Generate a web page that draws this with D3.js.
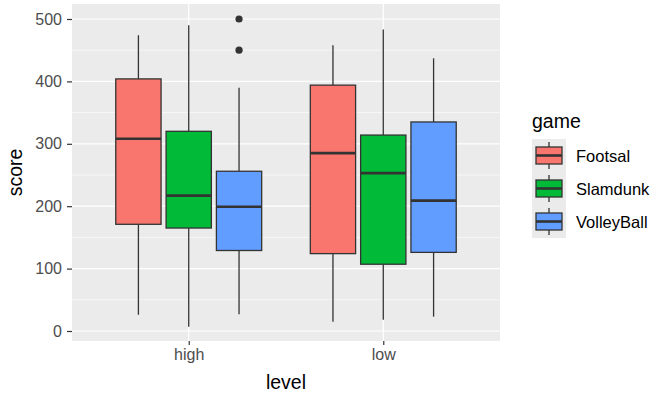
<!DOCTYPE html>
<html><head><meta charset="utf-8">
<script src="https://cdn.jsdelivr.net/npm/d3@7"></script>
<style>body{margin:0;background:#fff}text{font-family:"Liberation Sans",Arial,sans-serif}</style>
</head><body><svg id="c" width="660" height="394"></svg>
<script>
const levels = ["high", "low"];
const games = ["Footsal", "Slamdunk", "VolleyBall"];
const colors = ["#F8766D", "#00BA38", "#619CFF"];
// [lower whisker, Q1, median, Q3, upper whisker] per level (high, low)
const footsal = [[26, 171, 308, 404, 474], [15, 124, 285, 394, 458]];
const slamdunk = [[7, 165, 217, 320, 490], [18, 107, 253, 314, 483]];
const volleyball = [[27, 129, 199, 256, 390], [23, 126, 209, 335, 437]];
// outliers per level, per game
const outHigh = [[], [], [500, 450]];
const outLow = [[], [], []];
const yTicks = [0, 100, 200, 300, 400, 500];
const yMinor = [50, 150, 250, 350, 450];

const series = [footsal, slamdunk, volleyball];
const outs = [outHigh, outLow];

const svg = d3.select("#c");
const P = {l: 72, r: 500, t: 4, b: 341};
// ggplot discrete expansion: centres at 0.6/2.2 and 1.6/2.2 of panel width
const xc = d3.scalePoint().domain(levels).range([P.l + (P.r-P.l)*0.6/2.2, P.l + (P.r-P.l)*1.6/2.2]);
const step = xc.step();
const dodge = d3.scaleBand().domain(games).range([-step*0.375, step*0.375]).paddingInner(0.1);
const y = d3.scaleLinear().domain([0, 500]).range([331, 19]);
const FONT = "Liberation Sans, Arial, sans-serif";

svg.append("rect").attr("x", P.l).attr("y", P.t).attr("width", P.r-P.l).attr("height", P.b-P.t).attr("fill", "#EBEBEB");
const g = svg.append("g");
yMinor.forEach(v => g.append("line").attr("x1", P.l).attr("x2", P.r).attr("y1", y(v)).attr("y2", y(v)).attr("stroke", "#fff").attr("stroke-width", 0.6));
yTicks.forEach(v => g.append("line").attr("x1", P.l).attr("x2", P.r).attr("y1", y(v)).attr("y2", y(v)).attr("stroke", "#fff").attr("stroke-width", 1.2));
levels.forEach(l => g.append("line").attr("x1", xc(l)).attr("x2", xc(l)).attr("y1", P.t).attr("y2", P.b).attr("stroke", "#fff").attr("stroke-width", 1.2));

// y axis
const ya = svg.append("g").attr("transform", `translate(${P.l},0)`)
  .call(d3.axisLeft(y).tickValues(yTicks).tickSize(5).tickPadding(5));
ya.select(".domain").remove();
ya.selectAll("line").attr("stroke", "#333").attr("stroke-width", 1.2);
ya.selectAll("text").attr("fill", "#4D4D4D").style("font-size", "16px").style("font-family", FONT);
// x axis
const xa = svg.append("g").attr("transform", `translate(0,${P.b})`)
  .call(d3.axisBottom(xc).tickSize(4).tickPadding(4));
xa.select(".domain").remove();
xa.selectAll("line").attr("stroke", "#333").attr("stroke-width", 1.2);
xa.selectAll("text").attr("fill", "#4D4D4D").style("font-size", "16px").style("font-family", FONT);

svg.append("text").attr("x", (P.l+P.r)/2).attr("y", 389).attr("text-anchor", "middle").style("font-size", "19.5px").text("level");
svg.append("text").attr("transform", `translate(22,${(P.t+P.b)/2}) rotate(-90)`).attr("text-anchor", "middle").style("font-size", "19.5px").text("score");

// boxes
levels.forEach((l, li) => {
  games.forEach((gm, gi) => {
    const s = series[gi][li];
    const x0 = xc(l) + dodge(gm), w = dodge.bandwidth(), cx = x0 + w/2;
    g.append("line").attr("x1", cx).attr("x2", cx).attr("y1", y(s[4])).attr("y2", y(s[3])).attr("stroke", "#333").attr("stroke-width", 1.3);
    g.append("line").attr("x1", cx).attr("x2", cx).attr("y1", y(s[1])).attr("y2", y(s[0])).attr("stroke", "#333").attr("stroke-width", 1.3);
    g.append("rect").attr("x", x0).attr("y", y(s[3])).attr("width", w).attr("height", y(s[1]) - y(s[3]))
      .attr("fill", colors[gi]).attr("stroke", "#333").attr("stroke-width", 1.3);
    g.append("line").attr("x1", x0).attr("x2", x0 + w).attr("y1", y(s[2])).attr("y2", y(s[2])).attr("stroke", "#333").attr("stroke-width", 2.6);
    outs[li][gi].forEach(v => g.append("circle").attr("cx", cx).attr("cy", y(v)).attr("r", 3.6).attr("fill", "#333"));
  });
});

// legend
const lg = svg.append("g");
lg.append("text").attr("x", 532).attr("y", 128).style("font-size", "19.5px").text("game");
games.forEach((gm, i) => {
  const ky = 139 + i * 33;
  lg.append("rect").attr("x", 532).attr("y", ky).attr("width", 34).attr("height", 33).attr("fill", "#EBEBEB");
  lg.append("line").attr("x1", 549).attr("x2", 549).attr("y1", ky + 3).attr("y2", ky + 30).attr("stroke", "#333").attr("stroke-width", 1.3);
  lg.append("rect").attr("x", 536).attr("y", ky + 8).attr("width", 26).attr("height", 17).attr("fill", colors[i]).attr("stroke", "#333").attr("stroke-width", 1.3);
  lg.append("line").attr("x1", 536).attr("x2", 562).attr("y1", ky + 16.5).attr("y2", ky + 16.5).attr("stroke", "#333").attr("stroke-width", 2.6);
  lg.append("text").attr("x", 576).attr("y", ky + 22.5).style("font-size", "16.5px").attr("fill", "#000").text(gm);
});
</script></body></html>
